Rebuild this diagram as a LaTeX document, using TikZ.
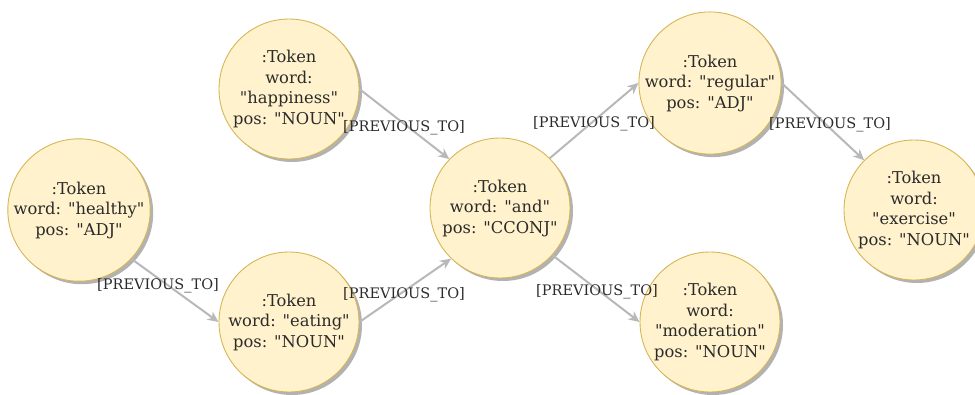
\documentclass[tikz,border=0pt]{standalone}
\usepackage{fontspec}
\newfontfamily\tokfont{DejaVu Serif}
\usetikzlibrary{arrows.meta,shadows}
\definecolor{tokfill}{HTML}{FFF2CC}
\definecolor{tokline}{HTML}{D6B656}
\definecolor{reledge}{HTML}{B8B8B8}
\definecolor{txt}{HTML}{2B2B2B}
\tikzset{
  token/.style={circle, draw=tokline, fill=tokfill, line width=0.9pt,
    minimum size=140pt, inner sep=0pt, align=center,
    font=\tokfont\fontsize{16.3}{20.5}\selectfont, text=txt,
    drop shadow={shadow xshift=3pt, shadow yshift=-3pt, opacity=0.3, fill=black}},
  rel/.style={draw=reledge, line width=2pt,
    -{Stealth[length=11pt, width=10pt, inset=3.5pt]}},
  rellabel/.style={font=\tokfont\fontsize{14.5}{16}\selectfont, text=txt, inner sep=0pt}
}
\begin{document}
\begin{tikzpicture}[x=1pt, y=-1pt]
  \useasboundingbox (0,0) rectangle (975,394);

  % token nodes
  \node[token] (healthy)    at (79,210)  {:Token\\word: "healthy"\\pos: "ADJ"};
  \node[token] (happiness)  at (289,89)  {:Token\\word:\\"happiness"\\pos: "NOUN"};
  \node[token] (eating)     at (289,322) {:Token\\word: "eating"\\pos: "NOUN"};
  \node[token] (and)        at (500,208) {:Token\\word: "and"\\pos: "CCONJ"};
  \node[token] (regular)    at (710,83)  {:Token\\word: "regular"\\pos: "ADJ"};
  \node[token] (moderation) at (710,322) {:Token\\word:\\"moderation"\\pos: "NOUN"};
  \node[token] (exercise)   at (914,210) {:Token\\word:\\"exercise"\\pos: "NOUN"};

  % PREVIOUS_TO relationships
  \draw[rel] (healthy.-43)   -- (eating.west);
  \draw[rel] (happiness.east) -- (and.136);
  \draw[rel] (eating.east)    -- (and.-134);
  \draw[rel] (and.45)         -- (regular.west);
  \draw[rel] (and.-42)        -- (moderation.west);
  \draw[rel] (regular.east)   -- (exercise.135);

  % relationship labels
  \node[rellabel] (l1) at (158,286) {[PREVIOUS\_TO]};
  \node[rellabel] (l2) at (404,128) {[PREVIOUS\_TO]};
  \node[rellabel] (l3) at (404,295) {[PREVIOUS\_TO]};
  \node[rellabel] (l4) at (594,124) {[PREVIOUS\_TO]};
  \node[rellabel] (l5) at (597,292) {[PREVIOUS\_TO]};
  \node[rellabel] (l6) at (830,125) {[PREVIOUS\_TO]};
\end{tikzpicture}
\end{document}
